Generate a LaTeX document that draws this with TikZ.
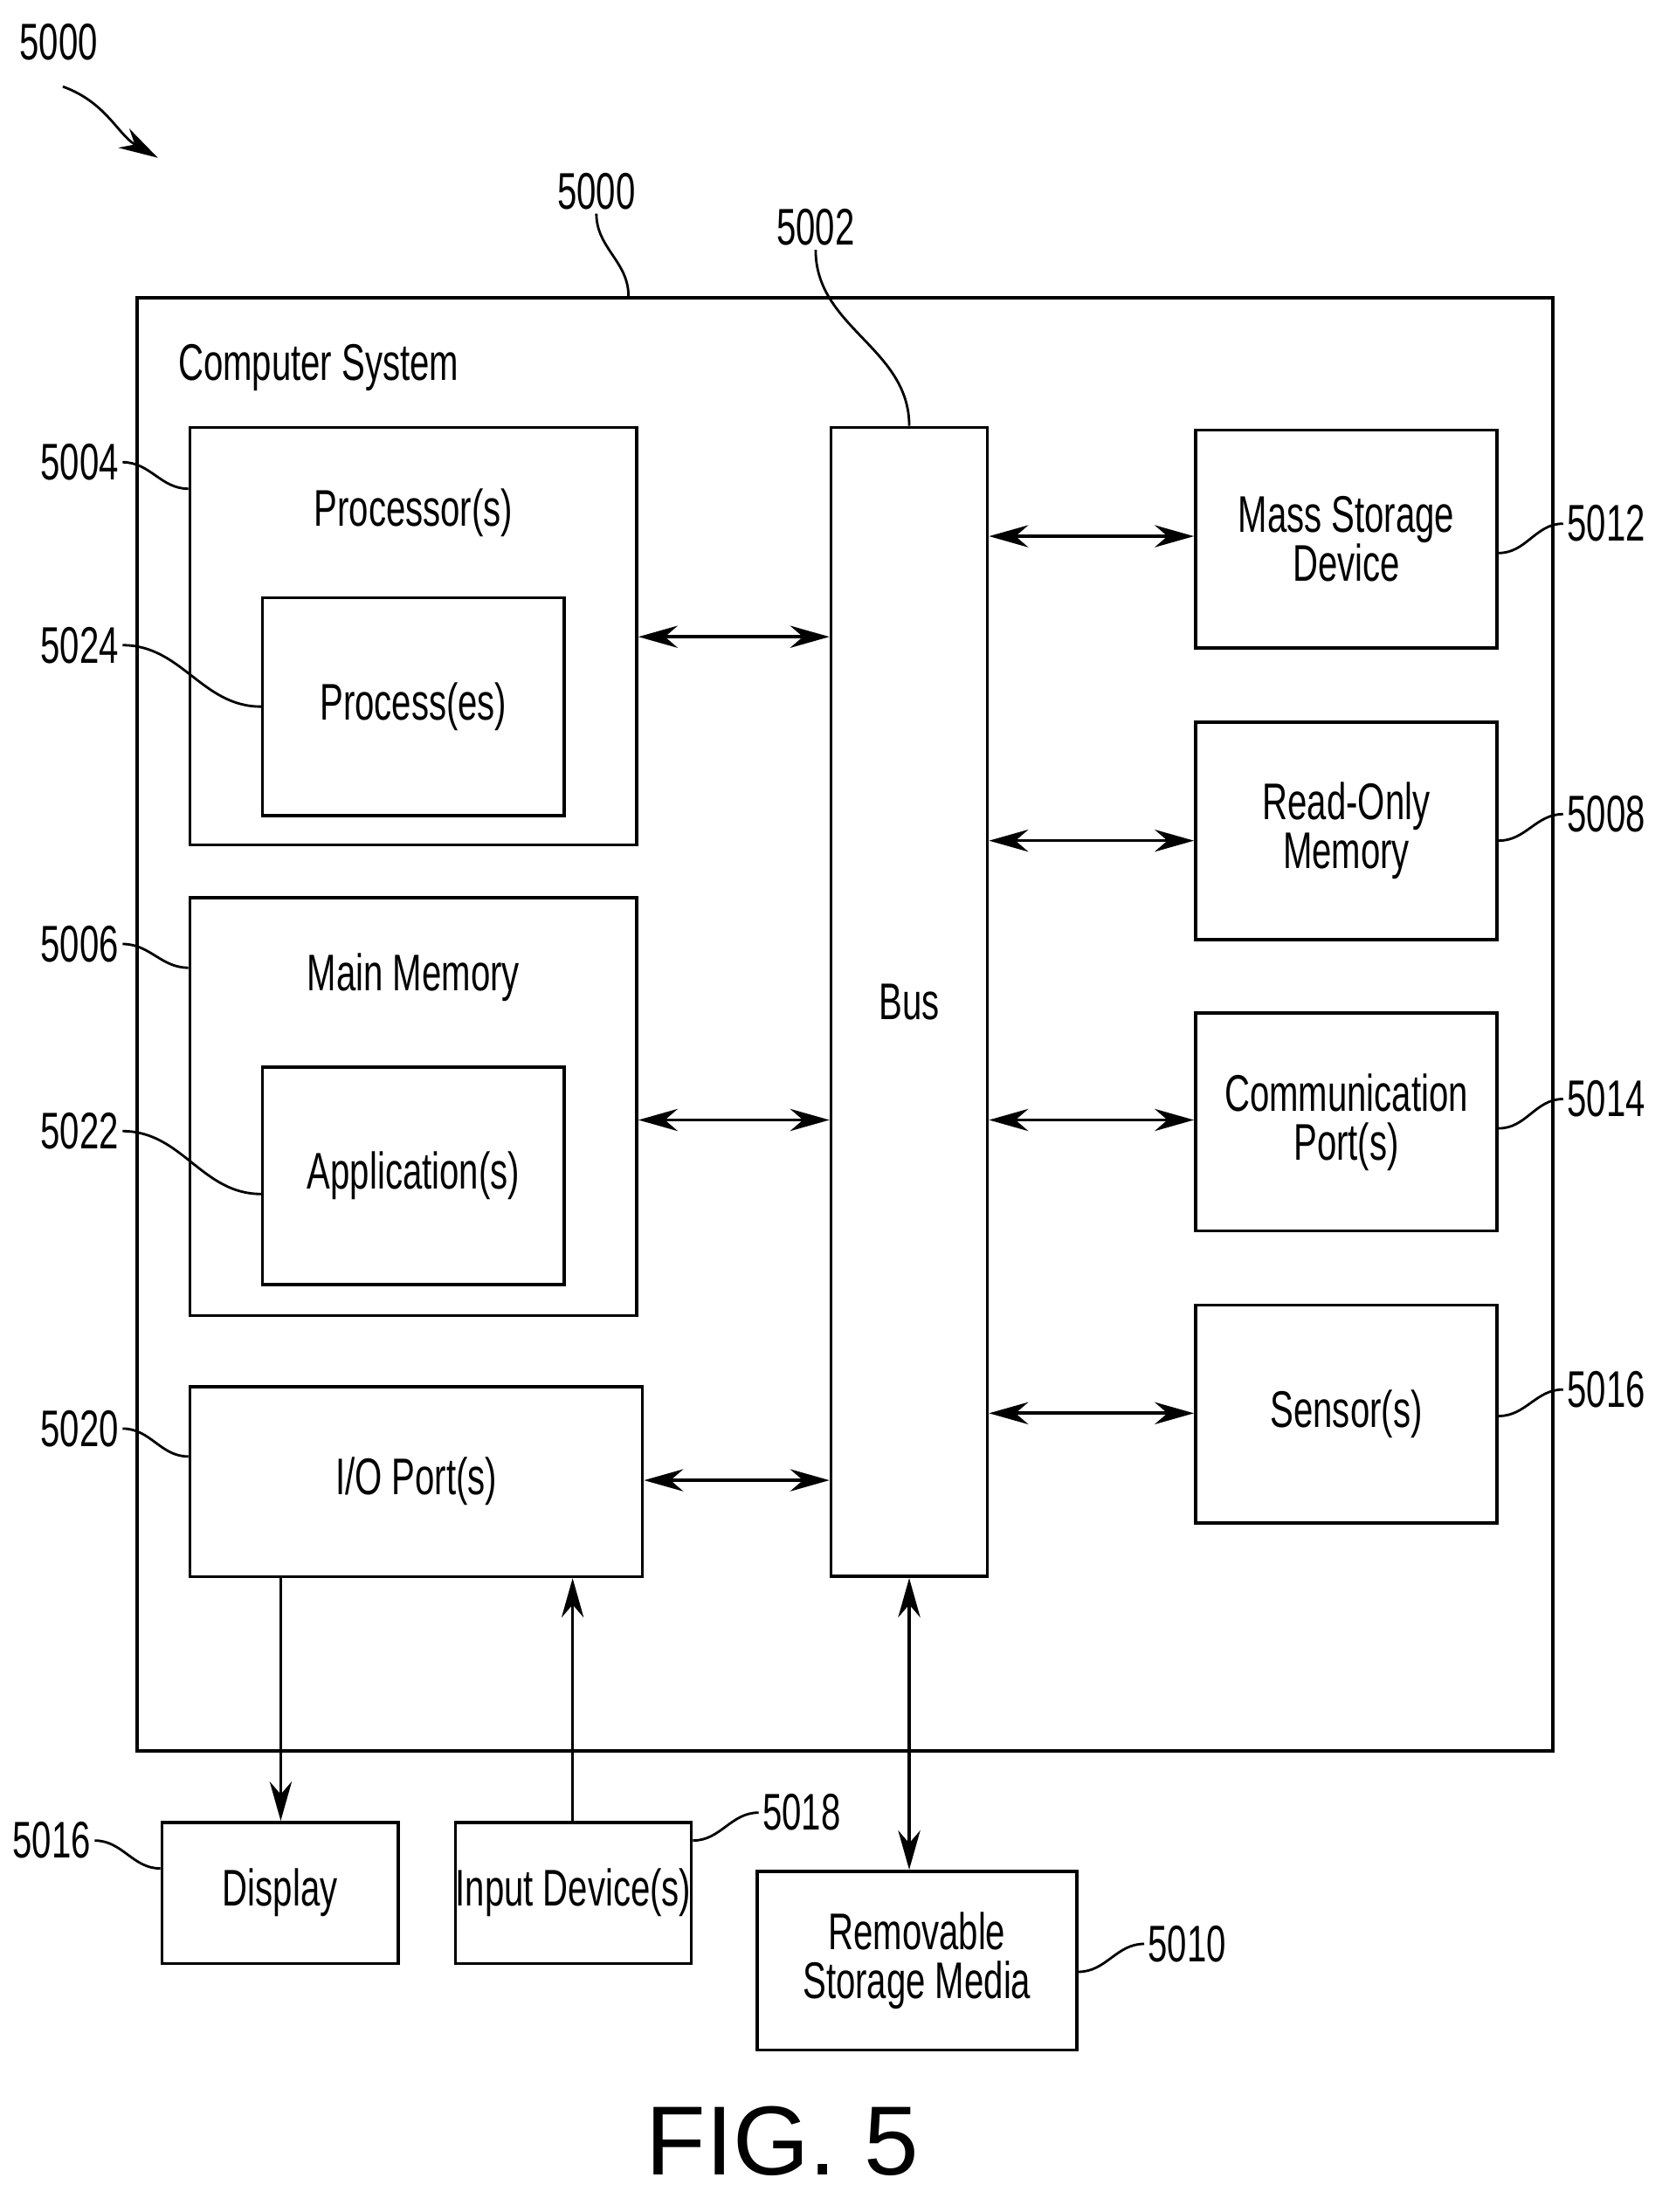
\documentclass[tikz,border=0pt]{standalone}
\usepackage{fontspec}
\setmainfont{Liberation Sans}[FakeStretch=0.68]
\newfontfamily\figfont{Liberation Sans}
\usetikzlibrary{arrows.meta,positioning}

\begin{document}
\begin{tikzpicture}[x=0.02cm,y=-0.02cm,line width=1.3pt,
  font=\fontsize{21}{23}\selectfont,
  >={Stealth[length=16pt,width=9pt]}]
\tikzstyle{plain}=[draw, inner sep=0pt, align=center]
\tikzstyle{ref}=[inner sep=1pt]
\tikzstyle{lead}=[line width=1pt]
\useasboundingbox (0,0) rectangle (1200,1584);

% main frame
\node [plain, minimum width=20.28cm, minimum height=20.82cm] (sys) at (605,733.5) {};
\node (syslbl) at (228,263) {Computer System};

% left column
\node [plain, minimum width=6.4cm, minimum height=5.98cm] (proc) at (296,455.5) {};
\node (proclbl) at (296,367) {Processor(s)};
\node [plain, minimum width=4.32cm, minimum height=3.12cm] (procs) at (296,506) {Process(es)};
\node [plain, minimum width=6.4cm, minimum height=5.98cm] (mem) at (296,792.5) {};
\node (memlbl) at (296,700) {Main Memory};
\node [plain, minimum width=4.32cm, minimum height=3.12cm] (apps) at (296,842) {Application(s)};
\node [plain, minimum width=6.48cm, minimum height=2.72cm] (io) at (298,1061) {I/O Port(s)};

% bus
\node [plain, minimum width=2.24cm, minimum height=16.46cm] (bus) at (651,717.5) {Bus};

% right column
\node [plain, minimum width=4.32cm, minimum height=3.12cm] (mass) at (964,386) {Mass Storage\\[-3pt]Device};
\node [plain, minimum width=4.32cm, minimum height=3.12cm] (rom) at (964,595) {Read-Only\\[-3pt]Memory};
\node [plain, minimum width=4.32cm, minimum height=3.12cm] (comm) at (964,803.5) {Communication\\[-3pt]Port(s)};
\node [plain, minimum width=4.32cm, minimum height=3.12cm] (sens) at (964,1012.5) {Sensor(s)};

% outside devices
\node [plain, minimum width=3.38cm, minimum height=2.02cm] (disp) at (200.5,1355.5) {Display};
\node [plain, minimum width=3.38cm, minimum height=2.02cm] (inp) at (410.5,1355.5) {Input Device(s)};
\node [plain, minimum width=4.58cm, minimum height=2.56cm] (rem) at (656.5,1404) {Removable\\[-3pt]Storage Media};

% connectors
\draw [<->] (proc.east |- 0,456) -- (bus.west |- 0,456);
\draw [<->] (mem.east |- 0,802) -- (bus.west |- 0,802);
\draw [<->] (io.east |- 0,1060) -- (bus.west |- 0,1060);
\draw [<->] (bus.east |- 0,384) -- (mass.west |- 0,384);
\draw [<->] (bus.east |- 0,602) -- (rom.west |- 0,602);
\draw [<->] (bus.east |- 0,802) -- (comm.west |- 0,802);
\draw [<->] (bus.east |- 0,1012) -- (sens.west |- 0,1012);
\draw [->] (io.south -| 201,0) -- (disp.north -| 201,0);
\draw [->] (inp.north -| 410,0) -- (io.south -| 410,0);
\draw [<->] (bus.south) -- (rem.north -| bus.south);

% reference numerals
\node [ref] (n5000) at (427,137) {5000};
\node [ref] (n5002) at (584,163) {5002};
\node [ref] (n5004) at (57,331) {5004};
\node [ref] (n5024) at (57,462) {5024};
\node [ref] (n5006) at (57,676) {5006};
\node [ref] (n5022) at (57,810) {5022};
\node [ref] (n5020) at (57,1023) {5020};
\node [ref] (n5012) at (1150,375) {5012};
\node [ref] (n5008) at (1150,583) {5008};
\node [ref] (n5014) at (1150,787) {5014};
\node [ref] (n5016) at (1150,995) {5016};
\node [ref] (n5016b) at (37,1318) {5016};
\node [ref] (n5018) at (574,1298) {5018};
\node [ref] (n5010) at (850,1392) {5010};
\node [ref] (fignum) at (42,30) {5000};

\draw [lead] (n5000.south) to[out=-90,in=90] (sys.north -| 450,0);
\draw [lead] (n5002.south) to[out=-90,in=90] (bus.north);
\draw [lead] (n5004.east) to[out=0,in=180] (proc.west |- 0,350);
\draw [lead] (n5024.east) to[out=0,in=180] (procs.west);
\draw [lead] (n5006.east) to[out=0,in=180] (mem.west |- 0,693);
\draw [lead] (n5022.east) to[out=0,in=180] (apps.west |- 0,855);
\draw [lead] (n5020.east) to[out=0,in=180] (io.west |- 0,1043);
\draw [lead] (n5012.west) to[out=180,in=0] (mass.east |- 0,396);
\draw [lead] (n5008.west) to[out=180,in=0] (rom.east |- 0,602);
\draw [lead] (n5014.west) to[out=180,in=0] (comm.east |- 0,808);
\draw [lead] (n5016.west) to[out=180,in=0] (sens.east |- 0,1014);
\draw [lead] (n5016b.east) to[out=0,in=180] (disp.west |- 0,1338);
\draw [lead] (n5018.west) to[out=180,in=0] (inp.east |- 0,1318);
\draw [lead] (n5010.west) to[out=180,in=0] (rem.east |- 0,1412);
\coordinate (figtip) at (113,113);
\draw [lead,->] (45,62) to[out=-20,in=150] (figtip);

\node (cap) at (560,1533) {\figfont\fontsize{40}{44}\selectfont FIG. 5};
\end{tikzpicture}
\end{document}
